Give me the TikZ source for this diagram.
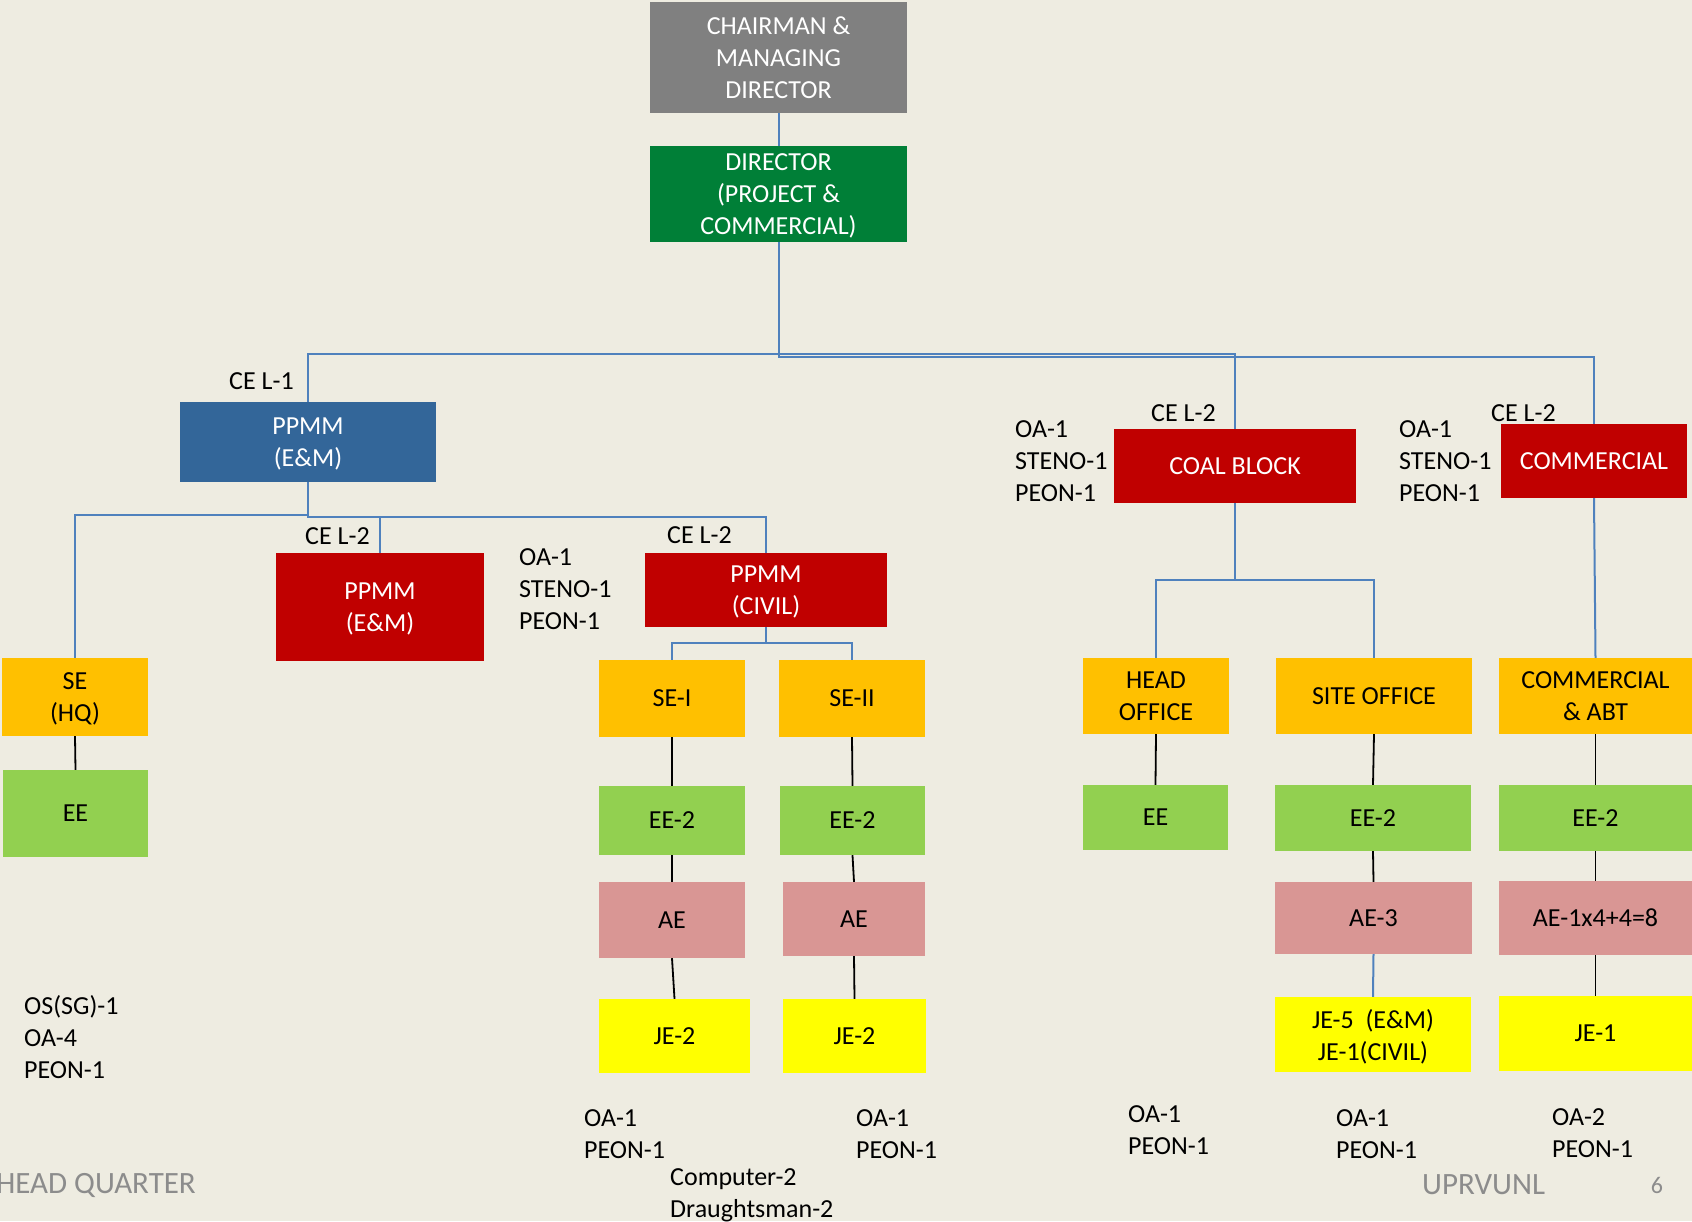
\documentclass[tikz,border=0pt]{standalone}
\usepackage{fontspec}
\setmainfont{Carlito}
\definecolor{cBg}{HTML}{EEECE1}
\definecolor{cGray}{HTML}{808080}
\definecolor{cDGreen}{HTML}{007F37}
\definecolor{cBlue}{HTML}{336699}
\definecolor{cRed}{HTML}{C00000}
\definecolor{cOrange}{HTML}{FFC000}
\definecolor{cLGreen}{HTML}{92D050}
\definecolor{cPink}{HTML}{D99694}
\definecolor{cYellow}{HTML}{FFFF00}
\definecolor{cLine}{HTML}{4F81BD}
\definecolor{cFoot}{HTML}{8C8C8C}
\begin{document}
\begin{tikzpicture}[x=1pt,y=-1pt,
  box/.style={rectangle, inner sep=0pt, align=center, text depth=0pt, font=\fontsize{26}{32}\selectfont},
  wbox/.style={box, text=white},
  kbox/.style={box, text=black},
  lbl/.style={inner sep=0pt, anchor=west, align=left, font=\fontsize{26}{32}\selectfont},
  foot/.style={inner sep=0pt, text=cFoot, font=\fontsize{31}{36}\selectfont},
  bl/.style={draw=cLine, line width=2pt},
  kl/.style={draw=black, line width=1.8pt}]
\fill[cBg] (0,0) rectangle (1692,1221);
\useasboundingbox (0,0) rectangle (1692,1221);

% top level
\node[wbox, fill=cGray, minimum width=257, minimum height=111] (cmd) at (778.5,57.5) {CHAIRMAN \&\\MANAGING\\DIRECTOR};
\node[wbox, fill=cDGreen, minimum width=257, minimum height=96] (dir) at (778.5,194) {DIRECTOR\\(PROJECT \&\\COMMERCIAL)};

% second level
\node[wbox, fill=cBlue, minimum width=256, minimum height=80] (ppmmb) at (308,442) {PPMM\\(E\&M)};
\node[wbox, fill=cRed, minimum width=242, minimum height=74] (coal) at (1235,466) {COAL BLOCK};
\node[wbox, fill=cRed, minimum width=186, minimum height=74] (comm) at (1594,461) {COMMERCIAL};

% third level
\node[wbox, fill=cRed, minimum width=208, minimum height=108] (ppmmr) at (380,607) {PPMM\\(E\&M)};
\node[wbox, fill=cRed, minimum width=242, minimum height=74] (civil) at (766,590) {PPMM\\(CIVIL)};

% SE row
\node[kbox, fill=cOrange, minimum width=146, minimum height=78] (sehq) at (75,697) {SE\\(HQ)};
\node[kbox, fill=cOrange, minimum width=146, minimum height=77] (se1) at (672,698.5) {SE-I};
\node[kbox, fill=cOrange, minimum width=146, minimum height=77] (se2) at (852,698.5) {SE-II};
\node[kbox, fill=cOrange, minimum width=146, minimum height=76] (ho) at (1156,696) {HEAD\\OFFICE};
\node[kbox, fill=cOrange, minimum width=196, minimum height=76] (so) at (1374,696) {SITE OFFICE};
\node[kbox, fill=cOrange, minimum width=193, minimum height=76] (cabt) at (1595.5,696) {COMMERCIAL\\\& ABT};

% EE row
\node[kbox, fill=cLGreen, minimum width=145, minimum height=87] (eehq) at (75.5,813.5) {EE};
\node[kbox, fill=cLGreen, minimum width=146, minimum height=69] (ee1) at (672,820.5) {EE-2};
\node[kbox, fill=cLGreen, minimum width=145, minimum height=69] (ee2) at (852.5,820.5) {EE-2};
\node[kbox, fill=cLGreen, minimum width=145, minimum height=65] (eeho) at (1155.5,817.5) {EE};
\node[kbox, fill=cLGreen, minimum width=196, minimum height=66] (eeso) at (1373,818) {EE-2};
\node[kbox, fill=cLGreen, minimum width=193, minimum height=66] (eec) at (1595.5,818) {EE-2};

% AE row
\node[kbox, fill=cPink, minimum width=146, minimum height=76] (ae1) at (672,920) {AE};
\node[kbox, fill=cPink, minimum width=142, minimum height=74] (ae2) at (854,919) {AE};
\node[kbox, fill=cPink, minimum width=197, minimum height=72] (ae3) at (1373.5,918) {AE-3};
\node[kbox, fill=cPink, minimum width=193, minimum height=74] (aec) at (1595.5,918) {AE-1x4+4=8};

% JE row
\node[kbox, fill=cYellow, minimum width=151, minimum height=74] (je1) at (674.5,1036) {JE-2};
\node[kbox, fill=cYellow, minimum width=143, minimum height=74] (je2) at (854.5,1036) {JE-2};
\node[kbox, fill=cYellow, minimum width=196, minimum height=75] (je5) at (1373,1034.5) {JE-5~~(E\&M)\\JE-1(CIVIL)};
\node[kbox, fill=cYellow, minimum width=193, minimum height=75] (jec) at (1595.5,1033.5) {JE-1};

% blue connectors
\coordinate (j0) at (308,515);
\coordinate (j1) at (308,517);
\coordinate (j2) at (766,643);
\coordinate (j3) at (1235,580);
\draw[bl] (cmd.south) -- (dir.north);
\draw[bl] (dir.south) -- ++(0,115) -| (comm.north);
\draw[bl] (ppmmb.north) -- ++(0,-48) -| (coal.north);
\draw[bl] (ppmmb.south) -- (j0) -| (sehq.north);
\draw[bl] (ppmmb.south) -- (j1) -| (civil.north);
\draw[bl] (ppmmr.north) -- (ppmmr.north |- j1);
\draw[bl] (civil.south) -- (j2) -| (se1.north);
\draw[bl] (j2) -| (se2.north);
\draw[bl] (coal.south) -- (j3) -| (ho.north);
\draw[bl] (j3) -| (so.north);
\draw[bl] (comm.south) -- (cabt.north);
\draw[bl] (ae3.south) -- (je5.north);

% black connectors
\draw[kl] (sehq.south) -- (eehq.north);
\draw[kl] (se1.south) -- (ee1.north);
\draw[kl] (ee1.south) -- (ae1.north);
\draw[kl] (ae1.south) -- (je1.north);
\draw[kl] (se2.south) -- (ee2.north);
\draw[kl] (ee2.south) -- (ae2.north);
\draw[kl] (ae2.south) -- (je2.north);
\draw[kl] (ho.south) -- (eeho.north);
\draw[kl] (so.south) -- (eeso.north);
\draw[kl] (eeso.south) -- (ae3.north);
\draw[kl] (cabt.south) -- (eec.north);
\draw[kl] (eec.south) -- (aec.north);
\draw[kl] (aec.south) -- (jec.north);

% labels
\node[lbl] (t1) at (229,381) {CE L-1};
\node[lbl] (t2) at (305,536) {CE L-2};
\node[lbl] (t3) at (667,535) {CE L-2};
\node[lbl] (t4) at (519,589) {OA-1\\STENO-1\\PEON-1};
\node[lbl] (t5) at (1151,413) {CE L-2};
\node[lbl] (t6) at (1015,461) {OA-1\\STENO-1\\PEON-1};
\node[lbl] (t7) at (1491,413) {CE L-2};
\node[lbl] (t8) at (1399,461) {OA-1\\STENO-1\\PEON-1};
\node[lbl] (t9) at (24,1037) {OS(SG)-1\\OA-4\\PEON-1};
\node[lbl] (t10) at (584,1134) {OA-1\\PEON-1};
\node[lbl] (t11) at (670,1195) {Computer-2\\Draughtsman-2};
\node[lbl] (t12) at (856,1134) {OA-1\\PEON-1};
\node[lbl] (t13) at (1128,1130) {OA-1\\PEON-1};
\node[lbl] (t14) at (1336,1134) {OA-1\\PEON-1};
\node[lbl] (t15) at (1552,1133) {OA-2\\PEON-1};

% footer
\node[foot, anchor=east] (hq) at (196,1185) {HEAD QUARTER};
\node[foot, anchor=west] (up) at (1422,1185) {UPRVUNL};
\node[foot, font=\fontsize{24}{28}\selectfont] (pg) at (1657,1185) {6};
\end{tikzpicture}
\end{document}
